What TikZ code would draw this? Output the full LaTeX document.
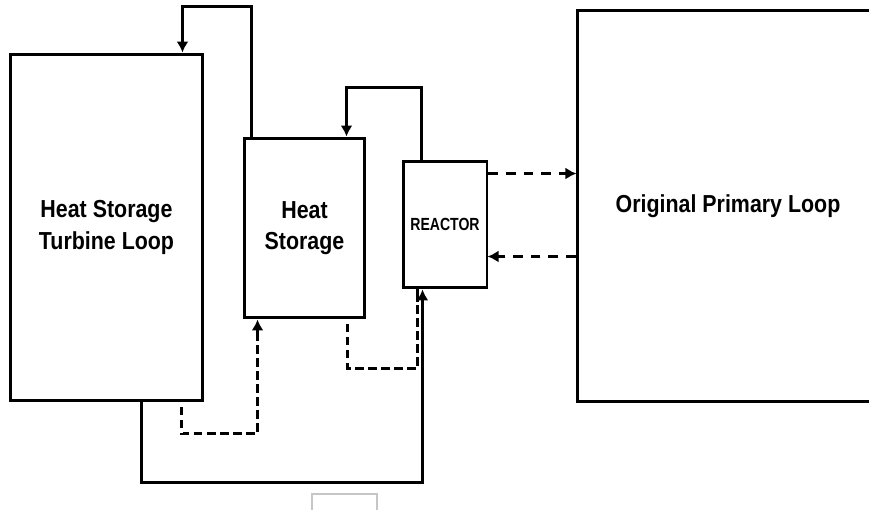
\documentclass[tikz,border=0pt]{standalone}
\usepackage{fontspec}
\setmainfont{Liberation Sans}
\newfontfamily\boxfont[FakeStretch=0.87]{Liberation Sans}
\newfontfamily\tagfont[FakeStretch=0.8]{Liberation Sans}
\usetikzlibrary{arrows.meta,positioning}

\begin{document}
\begin{tikzpicture}[x=0.02cm, y=-0.02cm, >={Latex[length=2.2mm,width=2.4mm]}, line width=1.5pt,
  box/.style={draw, line width=1.7pt, align=center, inner sep=0pt, font=\boxfont\bfseries\fontsize{14}{18}\selectfont},
  link/.style={->, dash pattern=on 5.6pt off 4.4pt},
  hotpipe/.style={line width=2.1pt, postaction={draw=white, arrows=-, line width=1.2pt, dash pattern=on 2.6pt off 4.8pt, shorten >=2.6mm}}]
\useasboundingbox (0,0) rectangle (869,510);
\clip (0,0) rectangle (869,510);
% boxes
\node[box, minimum width=3.86cm, minimum height=6.94cm] (turbine) at (106.5,227.5) {Heat Storage\\Turbine Loop};
\node[box, minimum width=2.42cm, minimum height=3.6cm] (storage) at (304.5,228) {Heat\\Storage};
\node[box, minimum width=1.68cm, minimum height=2.54cm, font=\tagfont\bfseries\fontsize{10}{12}\selectfont] (reactor) at (445,224.5) {REACTOR};
\node[box, minimum width=6.04cm, minimum height=7.84cm] (primary) at (728,206) {Original Primary Loop};
% solid loops
\draw[->] ([xshift=0.18cm]storage.north west) -- ++(0,-130) -| ([xshift=-0.44cm]turbine.north east);
\draw[->] ([xshift=0.4cm]reactor.north west) -- ++(0,-72) -| ([xshift=2.08cm]storage.north west);
\draw[->] ([xshift=2.66cm]turbine.south west) -- ++(0,80) -| ([xshift=0.42cm]reactor.south west);
% hot return lines
\draw[hotpipe, ->] ([xshift=3.46cm]turbine.south west) -- ++(0,31) -| ([xshift=0.3cm]storage.south west);
\draw[hotpipe] ([xshift=2.1cm]storage.south west) -- ++(0,49) -| ([xshift=0.32cm]reactor.south west);
% exchange with primary loop
\draw[link] ([yshift=-0.28cm]reactor.north east) -- ++(88,0);
\draw[link] ([yshift=-1.01cm]primary.west) -- ++(-88,0);
% stray mark
\draw[gray!45, line width=0.6pt] (312,512) -- (312,494) -- (377,494) -- (377,512);
\end{tikzpicture}
\end{document}
